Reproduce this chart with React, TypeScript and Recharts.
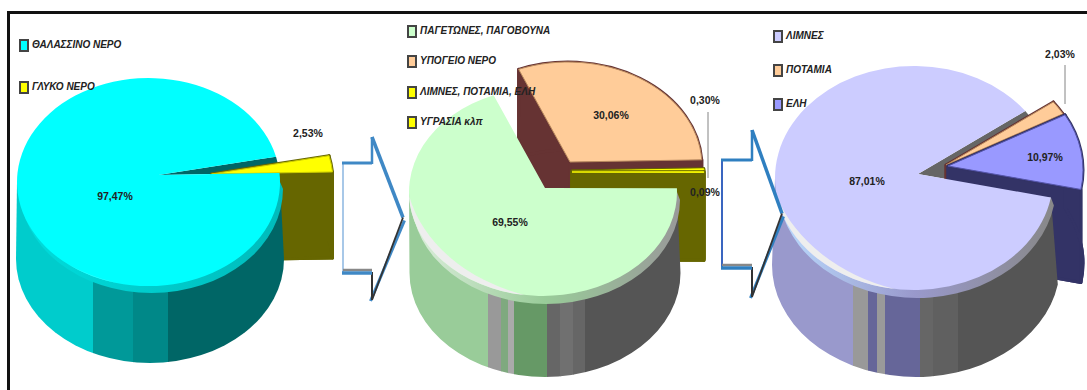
import React from 'react';
import { PieChart, Pie, Legend } from 'recharts';

// Share of the planet's water, drilled down from all water to surface water.
const waterCategories = ['ΘΑΛΑΣΣΙΝΟ ΝΕΡΟ', 'ΓΛΥΚΟ ΝΕΡΟ'];
const waterValues = [97.47, 2.53];
const freshCategories = ['ΠΑΓΕΤΩΝΕΣ, ΠΑΓΟΒΟΥΝΑ', 'ΥΠΟΓΕΙΟ ΝΕΡΟ', 'ΛΙΜΝΕΣ, ΠΟΤΑΜΙΑ, ΕΛΗ', 'ΥΓΡΑΣΙΑ κλπ'];
const freshValues = [69.55, 30.06, 0.3, 0.09];
const surfaceCategories = ['ΛΙΜΝΕΣ', 'ΠΟΤΑΜΙΑ', 'ΕΛΗ'];
const surfaceValues = [87.01, 2.03, 10.97];

type Band = [number, string];
type PanelStyle = {
  id: string;
  names: string[];
  values: number[];
  cx: number; cy: number; rx: number; ry: number;
  apex: [number, number];
  start: number;
  sideCx: number; sideRx: number; depth: number; sliceDepth: number;
  colors: string[];
  sideColors: string[];
  edgeColors: string[];
  offsets: [number, number][];
  face: string | null;
  bands: Band[]; // band colour up to the given x
  rim: string[];
  rimShift: [number, number];
  glow: [number, number, string];
  labels: { x: number; y: number; leader?: [number, number, number] }[];
  legend: { left: number; top: number; rowHeight: number };
};

const panels: PanelStyle[] = [
  {
    id: 'water', names: waterCategories, values: waterValues,
    cx: 148.5, cy: 182, rx: 131.5, ry: 104, apex: [10, -7], start: 5,
    sideCx: 150, sideRx: 134, depth: 77, sliceDepth: 86,
    colors: ['#00FFFF', '#FFFF00'], sideColors: ['#006666', '#666600'], edgeColors: ['#00CCCC', '#CCCC00'],
    offsets: [[0, 0], [53, -1]], face: '#006666',
    bands: [[93, '#00CCCC'], [133, '#009999'], [168, '#008888'], [290, '#006666']],
    rim: ['#00DDDD', '#00CCCC', '#00BBBB'], rimShift: [3, 7],
    glow: [232, 256, '#33FFFF'],
    labels: [{ x: 115, y: 197 }, { x: 308, y: 134 }],
    legend: { left: 19, top: 38, rowHeight: 42 },
  },
  {
    id: 'fresh', names: freshCategories, values: freshValues,
    cx: 543, cy: 192, rx: 134, ry: 104, apex: [2, -4], start: 2,
    sideCx: 545, sideRx: 135.5, depth: 81, sliceDepth: 88,
    colors: ['#CCFFCC', '#FFCC99', '#FFFF00', '#FFFF00'],
    sideColors: ['#669966', '#663333', '#666600', '#666600'],
    edgeColors: ['#99CC99', '#B98A5E', '#CCCC00', '#CCCC00'],
    offsets: [[0, 0], [25, -26], [27, -17], [27, -16]], face: null,
    bands: [[488, '#99CC99'], [501, '#999999'], [508, '#7FA97F'], [514, '#AAAAAA'], [547, '#669966'],
      [560, '#666666'], [573, '#707070'], [585, '#666666'], [690, '#555555']],
    rim: ['#DDEEDD', '#99CC99', '#999999'], rimShift: [3, 8],
    glow: [182, 262, '#EEEEEE'],
    labels: [{ x: 510, y: 223 }, { x: 611, y: 116 }, { x: 705, y: 101, leader: [708, 112, 178] }, { x: 705, y: 193 }],
    legend: { left: 407, top: 23.5, rowHeight: 30.5 },
  },
  {
    id: 'surface', names: surfaceCategories, values: surfaceValues,
    cx: 914, cy: 178, rx: 139, ry: 112, apex: [4, -4], start: -10,
    sideCx: 916, sideRx: 144, depth: 87, sliceDepth: 93,
    colors: ['#CCCCFF', '#FFCC99', '#9999FF'], sideColors: ['#666699', '#663333', '#333366'],
    edgeColors: ['#9999CC', '#B98A5E', '#5555AA'],
    offsets: [[0, 0], [28, -9], [30, -8]], face: '#666666',
    bands: [[853, '#9999CC'], [868, '#999999'], [877, '#666699'], [885, '#9A9A9A'], [920, '#666699'],
      [933, '#666666'], [958, '#606060'], [1070, '#555555']],
    rim: ['#BBDDFF', '#9999CC', '#888888'], rimShift: [3, 8],
    glow: [190, 262, '#EEEEEE'],
    labels: [{ x: 867, y: 182 }, { x: 1060, y: 55, leader: [1065, 65, 104] }, { x: 1045, y: 158 }],
    legend: { left: 773, top: 29, rowHeight: 34 },
  },
];

const rad = (a: number) => (a * Math.PI) / 180;
const pt = (a: number, cx: number, cy: number, rx: number, ry: number): [number, number] => [
  cx + rx * Math.cos(rad(a)),
  cy - ry * Math.sin(rad(a)),
];
const fmt = (p: [number, number]) => `${p[0].toFixed(2)} ${p[1].toFixed(2)}`;

// Clockwise wedge on an ellipse: Recharts hands over a decreasing angle pair.
function wedge(ax: number, ay: number, s: number, e: number, cx: number, cy: number, rx: number, ry: number) {
  const large = Math.abs(s - e) > 180 ? 1 : 0;
  return `M${ax} ${ay} L${fmt(pt(s, cx, cy, rx, ry))} A${rx} ${ry} 0 ${large} 1 ${fmt(pt(e, cx, cy, rx, ry))} Z`;
}

function SliceShape(panel: PanelStyle, layer: 'face' | 'slices' | 'front') {
  return (props: any) => {
    const i = panel.names.indexOf(props.name ?? props.payload?.name);
    const s: number = props.startAngle;
    const e: number = props.endAngle;
    const cx: number = props.cx;
    const cy: number = props.cy;
    const rx: number = props.outerRadius;
    const { ry } = panel;
    const ax = cx + panel.apex[0];
    const ay = cy + panel.apex[1];

    if (layer === 'face') {
      if (i !== 0 || !panel.face) return <g />;
      return <path d={wedge(ax, ay, e + 360, s, cx, cy, rx, ry)} fill={panel.face} />;
    }

    if (layer === 'slices') {
      if (i === 0) return <g />;
      const [ox, oy] = panel.offsets[i];
      const d = panel.sliceDepth;
      const side = panel.sideColors[i];
      const px = cx + ox;
      const py = cy + oy;
      const tipS = pt(s, px, py, rx, ry);
      const tipE = pt(e, px, py, rx, ry);
      const bx = ax + ox;
      const by = ay + oy;
      // The extruded solid is painted face by face so overlaps stay filled.
      const faces = [
        wedge(bx, by + d, s, e, px, py + d, rx, ry),
        `M${bx} ${by} L${fmt(tipS)} L${tipS[0]} ${tipS[1] + d} L${bx} ${by + d} Z`,
        `M${bx} ${by} L${fmt(tipE)} L${tipE[0]} ${tipE[1] + d} L${bx} ${by + d} Z`,
        `M${fmt(tipS)} A${rx} ${ry} 0 0 1 ${fmt(tipE)} L${tipE[0]} ${tipE[1] + d} A${rx} ${ry} 0 0 0 ${tipS[0]} ${tipS[1] + d} Z`,
      ];
      const wide = Math.abs(s - e) > 2;
      return (
        <g>
          {faces.map((f, k) => (
            <path key={k} d={f} fill={side} stroke={side} strokeWidth={3} strokeLinejoin="round" />
          ))}
          <path
            d={wedge(bx, by, s, e, px, py, rx, ry)}
            fill={panel.colors[i]}
            stroke={wide ? panel.edgeColors[i] : panel.colors[i]}
            strokeWidth={wide ? 1 : 1}
          />
        </g>
      );
    }

    if (i !== 0) return <g />;
    const s0 = Math.min(s, 0);
    const from = pt(s0, cx, cy, rx, ry);
    const fromLow = pt(s0, panel.sideCx, cy + panel.depth, panel.sideRx, ry);
    const left = pt(180, cx, cy, rx, ry);
    const leftLow = pt(180, panel.sideCx, cy + panel.depth, panel.sideRx, ry);
    const sidePath = `M${fmt(from)} L${fmt(fromLow)} A${panel.sideRx} ${ry} 0 0 1 ${fmt(leftLow)} L${fmt(left)} Z`;

    const rimCx = cx + panel.rimShift[0];
    const rimCy = cy + panel.rimShift[1];
    const rimFrom = pt(s0, rimCx, rimCy, rx, ry);
    const rimTo = pt(180, rimCx, rimCy, rx, ry);
    const rimPath = `M${fmt(from)} L${fmt(rimFrom)} A${rx} ${ry} 0 0 1 ${fmt(rimTo)} L${fmt(left)} Z`;

    const [g1, g2, glowColor] = panel.glow;
    const a = pt(g1, cx, cy, rx, ry);
    const b = pt(g2, cx, cy, rx, ry);
    const glowPath = `M${fmt(a)} A${rx} ${ry} 0 0 0 ${fmt(b)} A${rx * 1.3} ${ry * 1.3} 0 0 1 ${fmt(a)} Z`;

    let prev = 0;
    return (
      <g>
        <defs>
          <clipPath id={`${panel.id}-side`}>
            <path d={sidePath} />
          </clipPath>
          <linearGradient id={`${panel.id}-rim`} x1="0" x2="1" y1="0" y2="0">
            <stop offset="0" stopColor={panel.rim[0]} />
            <stop offset="0.5" stopColor={panel.rim[1]} />
            <stop offset="1" stopColor={panel.rim[2]} />
          </linearGradient>
        </defs>
        <g clipPath={`url(#${panel.id}-side)`}>
          {panel.bands.map(([x, color]) => {
            const rect = <rect key={x} x={prev} y={0} width={x - prev + 0.5} height={390} fill={color} />;
            prev = x;
            return rect;
          })}
        </g>
        <path d={rimPath} fill={`url(#${panel.id}-rim)`} />
        <path d={wedge(ax, ay, s, e, cx, cy, rx, ry)} fill={panel.colors[0]} />
        <path d={glowPath} fill={glowColor} />
      </g>
    );
  };
}

function percentLabel(panel: PanelStyle) {
  return (props: any) => {
    const i = panel.names.indexOf(props.name ?? props.payload?.name);
    const pos = panel.labels[i];
    if (!pos) return <g />;
    return (
      <g>
        {pos.leader && (
          <line x1={pos.leader[0]} x2={pos.leader[0]} y1={pos.leader[1]} y2={pos.leader[2]} stroke="#666" strokeWidth={0.8} />
        )}
        <text
          x={pos.x}
          y={pos.y}
          textAnchor="middle"
          dominantBaseline="middle"
          fontFamily="'Liberation Sans', sans-serif"
          fontWeight={700}
          fontSize={10.5}
          fill="#222"
        >
          {panel.values[i].toFixed(2).replace('.', ',')}%
        </text>
      </g>
    );
  };
}

function legendContent(panel: PanelStyle) {
  return () => (
    <div>
      {panel.names.map((name, i) => (
        <div
          key={name}
          style={{
            height: panel.legend.rowHeight,
            display: 'flex',
            alignItems: 'flex-start',
            whiteSpace: 'nowrap',
            fontFamily: "'Liberation Sans', sans-serif",
            fontStyle: 'italic',
            fontWeight: 700,
            fontSize: 10,
            lineHeight: '14px',
            color: '#222',
          }}
        >
          <span
            style={{
              display: 'inline-block',
              width: 6,
              height: 9,
              marginRight: 3,
              marginTop: 1,
              border: '2px solid #444',
              background: panel.colors[i],
            }}
          />
          {name}
        </div>
      ))}
    </div>
  );
}

function PanelChart({ panel }: { panel: PanelStyle }) {
  const data = panel.names.map((name, i) => ({ name, value: panel.values[i], fill: panel.colors[i] }));
  const common = {
    data,
    dataKey: 'value',
    nameKey: 'name',
    cx: panel.cx,
    cy: panel.cy,
    innerRadius: 0,
    outerRadius: panel.rx,
    startAngle: panel.start,
    endAngle: panel.start - 360,
    isAnimationActive: false,
    stroke: 'none',
    rootTabIndex: -1,
  };
  return (
    <div style={{ position: 'absolute', left: 0, top: 0 }}>
      <PieChart width={1087} height={390} margin={{ top: 0, right: 0, bottom: 0, left: 0 }}>
        <Pie {...common} legendType="none" shape={SliceShape(panel, 'face')} />
        <Pie {...common} legendType="none" shape={SliceShape(panel, 'slices')} />
        <Pie {...common} shape={SliceShape(panel, 'front')} label={percentLabel(panel)} labelLine={false} />
        <Legend
          content={legendContent(panel)}
          wrapperStyle={{ position: 'absolute', left: panel.legend.left, top: panel.legend.top, bottom: 'auto', width: 'auto', height: 'auto', zIndex: 2 }}
        />
      </PieChart>
    </div>
  );
}

// Block arrow pointing from one pie to the next, with its bevelled outline.
function BlockArrow({ x, top, bottom, neck, headTop, headBottom, tip, edge, soft }: any) {
  const mid = (top + bottom) / 2;
  const tipY = mid;
  const outline = `${x},${top} ${neck},${top} ${neck},${headTop} ${tip},${tipY} ${neck},${headBottom} ${neck},${bottom} ${x},${bottom}`;
  return (
    <svg width={1087} height={390} style={{ position: 'absolute', left: 0, top: 0, zIndex: 1 }}>
      <polygon points={outline} fill="#fff" />
      <line x1={x} x2={x} y1={top} y2={bottom} stroke={soft} strokeWidth={2} />
      <line x1={x - 1} x2={neck} y1={top} y2={top} stroke={edge} strokeWidth={3} />
      <line x1={neck} x2={neck} y1={top + 1} y2={headTop} stroke={edge} strokeWidth={2.5} />
      <line x1={neck} x2={tip} y1={headTop} y2={tipY} stroke={edge} strokeWidth={3.5} />
      <line x1={tip + 1.5} x2={neck - 1.5} y1={tipY + 3} y2={headBottom + 1} stroke={edge} strokeWidth={3} />
      <line x1={tip} x2={neck} y1={tipY} y2={headBottom} stroke="#333" strokeWidth={1.8} />
      <line x1={neck} x2={neck} y1={bottom} y2={headBottom} stroke="#333" strokeWidth={2} />
      <line x1={x} x2={neck} y1={bottom - 2} y2={bottom - 2} stroke="#888" strokeWidth={2.5} />
      <line x1={x - 1} x2={neck} y1={bottom + 1} y2={bottom + 1} stroke={edge} strokeWidth={3.5} />
    </svg>
  );
}

export default function App() {
  return (
    <div style={{ position: 'absolute', left: 0, top: 0, width: 1087, height: 390, overflow: 'hidden', background: '#fff' }}>
      <div style={{ position: 'absolute', left: 7, top: 11, width: 1080, height: 3, background: '#111' }} />
      <div style={{ position: 'absolute', left: 7, top: 11, width: 3, height: 379, background: '#111' }} />
      <BlockArrow x={343} top={163} bottom={272} neck={372} headTop={137} headBottom={300} tip={403} edge="#3F88C5" soft="#A8C8E8" />
      <PanelChart panel={panels[0]} />
      <PanelChart panel={panels[1]} />
      <PanelChart panel={panels[2]} />
      <BlockArrow x={722} top={160} bottom={267} neck={752} headTop={130} headBottom={297} tip={782} edge="#2F7FC0" soft="#3A66C0" />
    </div>
  );
}
